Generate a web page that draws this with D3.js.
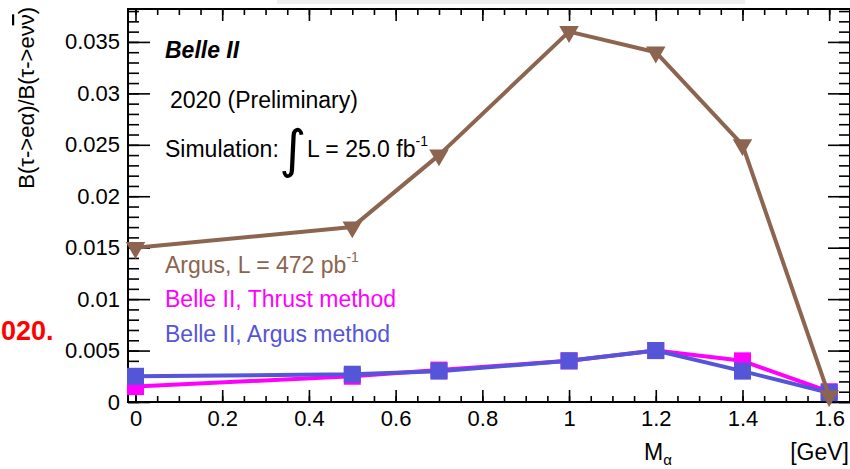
<!DOCTYPE html>
<html>
<head>
<meta charset="utf-8">
<script src="https://cdn.jsdelivr.net/npm/d3@7"></script>
<style>
  html, body { margin: 0; padding: 0; background: #fff; }
  svg { display: block; }
  text { font-family: "Liberation Sans", Arial, Helvetica, sans-serif; }
</style>
</head>
<body>
<svg id="chart" width="850" height="469"></svg>
<script>
// Mass points of the hypothetical boson alpha, in GeV
const massPoints = [0, 0.5, 0.7, 1.0, 1.2, 1.4, 1.6];

// Upper limits on B(tau -> e alpha)/B(tau -> e nu nubar)
const argusLimit   = [0.015, 0.017, 0.024, 0.036, 0.034, 0.025, 0.0006];
const thrustLimit  = [0.0015, 0.0025, 0.0031, 0.0040, 0.0050, 0.0040, 0.0010];
const argusMethod  = [0.0025, 0.0027, 0.0030, 0.0040, 0.0050, 0.0030, 0.0009];

// Axis ticks
const xTickValues = [0, 0.2, 0.4, 0.6, 0.8, 1.0, 1.2, 1.4, 1.6];
const yTickValues = [0, 0.005, 0.01, 0.015, 0.02, 0.025, 0.03, 0.035];

const colors = { argus: "#8c6450", thrust: "#ff00ff", method: "#5555d8" };

const svg = d3.select("#chart");
const frame = { left: 128, right: 850, top: 9, bottom: 402 };

const x = d3.scaleLinear().domain([-0.0173, 1.648]).range([frame.left, frame.right]);
const y = d3.scaleLinear().domain([0, 0.0382]).range([frame.bottom, frame.top]);

// faint strip along the top edge
svg.append("rect").attr("x", 277).attr("y", 0).attr("width", 468).attr("height", 4).attr("fill", "#efefef");

// Frame
svg.append("rect")
  .attr("x", frame.left).attr("y", frame.top)
  .attr("width", frame.right - frame.left).attr("height", frame.bottom - frame.top)
  .attr("fill", "none").attr("stroke", "#000").attr("stroke-width", 2);

const fmt = d3.format("~g");
const xMinor = d3.range(0, 1.6001, 0.05);
const yMinor = d3.range(0, 0.0381, 0.001);

function styleAxis(g) {
  g.select(".domain").remove();
  g.selectAll("line").attr("stroke", "#000").attr("stroke-width", 1.6);
  g.selectAll("text").attr("font-size", 22).attr("fill", "#000")
    .style("font-family", "'Liberation Sans', Arial, sans-serif");
}

// Left axis: labelled major ticks and minor ticks, pointing inwards
svg.append("g").attr("transform", `translate(${frame.left},0)`)
  .call(d3.axisLeft(y).tickValues(yTickValues).tickFormat(fmt).tickSizeInner(-22).tickSizeOuter(0).tickPadding(8))
  .call(styleAxis);
svg.append("g").attr("transform", `translate(${frame.left},0)`)
  .call(d3.axisLeft(y).tickValues(yMinor).tickFormat("").tickSizeInner(-11).tickSizeOuter(0))
  .call(styleAxis);
// Right axis
svg.append("g").attr("transform", `translate(${frame.right},0)`)
  .call(d3.axisRight(y).tickValues(yTickValues).tickFormat("").tickSizeInner(-22).tickSizeOuter(0))
  .call(styleAxis);
svg.append("g").attr("transform", `translate(${frame.right},0)`)
  .call(d3.axisRight(y).tickValues(yMinor).tickFormat("").tickSizeInner(-11).tickSizeOuter(0))
  .call(styleAxis);

// Bottom axis
svg.append("g").attr("transform", `translate(0,${frame.bottom})`)
  .call(d3.axisBottom(x).tickValues(xTickValues).tickFormat(fmt).tickSizeInner(-12).tickSizeOuter(0).tickPadding(8))
  .call(styleAxis);
svg.append("g").attr("transform", `translate(0,${frame.bottom})`)
  .call(d3.axisBottom(x).tickValues(xMinor).tickFormat("").tickSizeInner(-6).tickSizeOuter(0))
  .call(styleAxis);
// Top axis
svg.append("g").attr("transform", `translate(0,${frame.top})`)
  .call(d3.axisTop(x).tickValues(xTickValues).tickFormat("").tickSizeInner(-12).tickSizeOuter(0))
  .call(styleAxis);
svg.append("g").attr("transform", `translate(0,${frame.top})`)
  .call(d3.axisTop(x).tickValues(xMinor).tickFormat("").tickSizeInner(-6).tickSizeOuter(0))
  .call(styleAxis);

// Series
const line = d3.line().x(d => x(d[0])).y(d => y(d[1]));

function drawSeries(values, color, marker) {
  const pts = massPoints.map((m, i) => [m, values[i]]);
  svg.append("path").datum(pts)
    .attr("d", line).attr("fill", "none")
    .attr("stroke", color).attr("stroke-width", 4).attr("stroke-linejoin", "round");
  const sym = marker === "square"
    ? d3.symbol().type(d3.symbolSquare).size(17 * 17)
    : d3.symbol().type(d3.symbolTriangle).size(165);
  svg.append("g").selectAll("path").data(pts).join("path")
    .attr("d", sym)
    .attr("transform", d => `translate(${x(d[0])},${y(d[1])})` + (marker === "square" ? "" : " rotate(180)"))
    .attr("fill", color);
}

drawSeries(thrustLimit, colors.thrust, "square");
drawSeries(argusMethod, colors.method, "square");
drawSeries(argusLimit, colors.argus, "triangle");

// Annotations
svg.append("text").attr("x", 165).attr("y", 58)
  .attr("font-size", 23).attr("font-weight", "bold").attr("font-style", "italic")
  .text("Belle II");
svg.append("text").attr("x", 170).attr("y", 108).attr("font-size", 23)
  .text("2020 (Preliminary)");
svg.append("text").attr("x", 165).attr("y", 157).attr("font-size", 23).text("Simulation:");
svg.append("text").attr("x", 279).attr("y", 167).attr("font-size", 52)
  .style("font-family", "'DejaVu Sans', sans-serif").text("∫");
const lumi = svg.append("text").attr("x", 307).attr("y", 157).attr("font-size", 23);
lumi.append("tspan").text("L = 25.0 fb");
lumi.append("tspan").attr("font-size", 14).attr("dy", -11).text("-1");

// Legend
const legend = [
  { label: "Argus, L = 472 pb", sup: "-1", color: colors.argus, y: 273 },
  { label: "Belle II, Thrust method", sup: null, color: colors.thrust, y: 307 },
  { label: "Belle II, Argus method", sup: null, color: colors.method, y: 342 }
];
legend.forEach(item => {
  const t = svg.append("text").attr("x", 165).attr("y", item.y)
    .attr("font-size", 23).attr("fill", item.color);
  t.append("tspan").text(item.label);
  if (item.sup) t.append("tspan").attr("font-size", 14).attr("dy", -11).text(item.sup);
});

// Axis titles
const yTitle = svg.append("text")
  .attr("transform", "translate(34,7) rotate(-90)")
  .attr("text-anchor", "end").attr("font-size", 22);
yTitle.append("tspan").text("B(τ->eα)/B(τ->eν");
yTitle.append("tspan").style("text-decoration", "overline").text("ν");
yTitle.append("tspan").text(")");

const xTitle = svg.append("text").attr("x", 644).attr("y", 460).attr("font-size", 23);
xTitle.append("tspan").text("M");
xTitle.append("tspan").attr("font-size", 15).attr("dy", 5).text("α");
svg.append("text").attr("x", 849).attr("y", 460).attr("text-anchor", "end")
  .attr("font-size", 23).text("[GeV]");

// Red heading fragment on the left
svg.append("text").attr("x", 1).attr("y", 340)
  .attr("font-size", 27).attr("font-weight", "bold").attr("fill", "#ff0000")
  .text("020.");
</script>
</body>
</html>
